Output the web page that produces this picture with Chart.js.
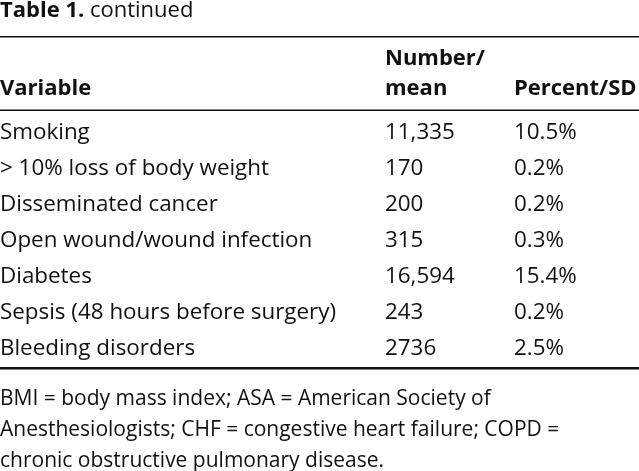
<!DOCTYPE html>
<html>
<head>
<meta charset="utf-8">
<script src="https://cdn.jsdelivr.net/npm/chart.js@4.4.0/dist/chart.umd.min.js"></script>
<style>
html,body{margin:0;padding:0;background:#fff;}
#wrap{width:639px;height:471px;position:relative;}
</style>
</head>
<body>
<div id="wrap"><canvas id="c" width="639" height="471"></canvas></div>
<script>
const titleBold = "Table 1.";
const titleRest = " continued";
const headerVariable = "Variable";
const headerNumber = ["Number/", "mean"];
const headerPercent = "Percent/SD";
const variables = ["Smoking", "> 10% loss of body weight", "Disseminated cancer", "Open wound/wound infection", "Diabetes", "Sepsis (48 hours before surgery)", "Bleeding disorders"];
const numbers = ["11,335", "170", "200", "315", "16,594", "243", "2736"];
const percents = ["10.5%", "0.2%", "0.2%", "0.3%", "15.4%", "0.2%", "2.5%"];
const footnote = ["BMI = body mass index; ASA = American Society of", "Anesthesiologists; CHF = congestive heart failure; COPD =", "chronic obstructive pulmonary disease."];

const FONT = '"Open Sans", "Noto Sans", sans-serif';
const SIZE = 22.4;
const HEAD_SIZE = 22;
const FOOT_SIZE = 21;
const COLX = [0, 385, 514];

const tablePlugin = {
  id: 'tableText',
  afterDraw(chart) {
    const ctx = chart.ctx;
    const y = chart.scales.y;
    ctx.save();
    ctx.fillStyle = '#111';
    ctx.textBaseline = 'alphabetic';
    ctx.textAlign = 'left';
    // title
    ctx.font = 'bold ' + HEAD_SIZE + 'px ' + FONT;
    ctx.fillText(titleBold, 0, 17);
    const w = ctx.measureText(titleBold).width;
    ctx.font = HEAD_SIZE + 'px ' + FONT;
    ctx.fillText(titleRest, w, 17);
    // rules
    ctx.fillRect(0, 36, 639, 1.5);
    ctx.fillRect(0, 109.5, 639, 1.5);
    ctx.fillRect(0, 367, 639, 2.5);
    // header
    ctx.font = 'bold ' + HEAD_SIZE + 'px ' + FONT;
    ctx.fillText(headerVariable, COLX[0], 95);
    ctx.fillText(headerNumber[0], COLX[1], 65);
    ctx.fillText(headerNumber[1], COLX[1], 95);
    ctx.fillText(headerPercent, COLX[2], 95);
    // rows
    ctx.font = SIZE + 'px ' + FONT;
    variables.forEach((v, i) => {
      const yy = y.getPixelForValue(i) + 7.5;
      ctx.fillText(v, COLX[0], yy);
      ctx.fillText(numbers[i], COLX[1], yy);
      ctx.fillText(percents[i], COLX[2], yy);
    });
    // footnote
    ctx.font = FOOT_SIZE + 'px ' + FONT;
    footnote.forEach((t, i) => ctx.fillText(t, 0, 405 + i * 31));
    ctx.restore();
  }
};

new Chart(document.getElementById('c'), {
  type: 'bar',
  data: {
    labels: variables,
    datasets: [{ data: numbers.map(n => parseFloat(n.replace(/,/g, ''))), backgroundColor: 'rgba(0,0,0,0)' }]
  },
  options: {
    responsive: false,
    animation: false,
    indexAxis: 'y',
    layout: { padding: { top: 114, bottom: 106, left: 0, right: 0 } },
    plugins: { legend: { display: false }, tooltip: { enabled: false } },
    scales: {
      y: { type: 'category', display: false, offset: true },
      x: { display: false }
    }
  },
  plugins: [tablePlugin]
});
</script>
</body>
</html>
